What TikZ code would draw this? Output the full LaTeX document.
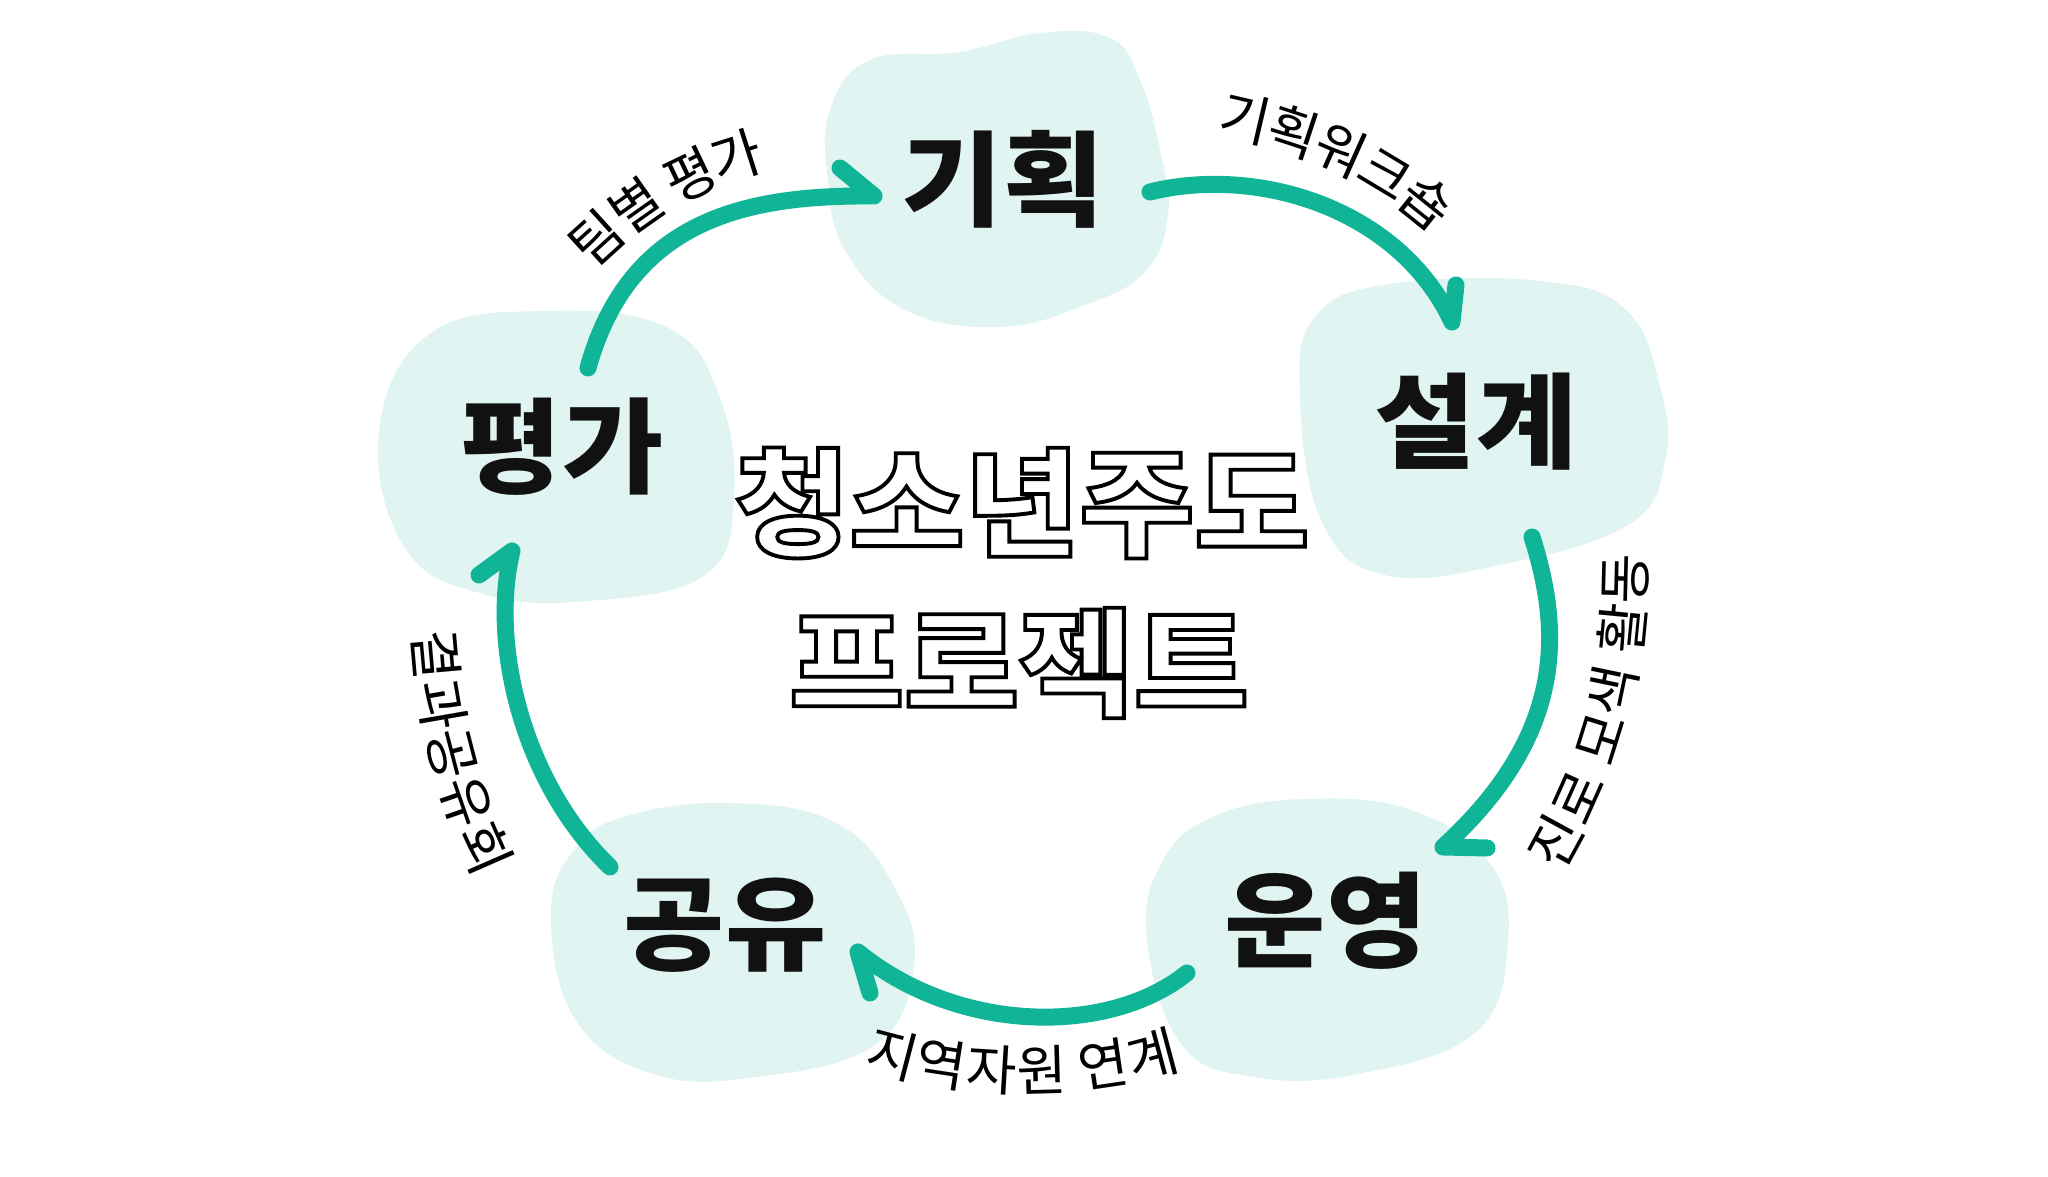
\documentclass[tikz,border=0pt]{standalone}
\usepackage{fontspec}
\newfontfamily\kr{Noto Sans CJK KR}
\newfontfamily\krwide[FakeStretch=1.06]{Noto Sans CJK KR}
\usetikzlibrary{decorations.text}
\definecolor{flowc}{RGB}{16,180,151}
\definecolor{blobc}{RGB}{224,245,242}
\definecolor{inkc}{RGB}{17,17,17}
\newcommand\outlinetxt[1]{\special{pdf:code 1 Tr 1.1 w}#1\special{pdf:code 0 Tr}}
\newcommand\edgefont{\kr\fontsize{15.5}{17}\selectfont}
\begin{document}
\begin{tikzpicture}[x=0.01cm,y=0.01cm,
  blob/.style={fill=blobc, draw=none},
  mainlab/.style={font=\krwide\bfseries\fontsize{29.5}{31}\selectfont, text=inkc, inner sep=0pt},
  titlelab/.style={font=\krwide\bfseries\fontsize{33.5}{36}\selectfont, text=black, inner sep=0pt},
  flow/.style={draw=flowc, line width=0.17cm, line cap=round, line join=round},
  edgelab/.style={decorate, decoration={text along path, text align=center, raise=-0.19cm}}
]
\useasboundingbox[fill=white] (0,0) rectangle (2048,1177);

% blobs
\fill[blob] plot[smooth cycle, tension=0.7] coordinates {(830,1067) (870,1117) (960,1125) (1040,1144) (1110,1139) (1140,1097) (1160,1027) (1168,962) (1145,905) (1085,872) (1000,850) (905,867) (845,927) (828,997)};
\fill[blob] plot[smooth cycle, tension=0.7] coordinates {(1300,780) (1315,860) (1390,893) (1540,896) (1625,868) (1660,790) (1665,715) (1628,652) (1500,612) (1385,602) (1322,655)};
\fill[blob] plot[smooth cycle, tension=0.7] coordinates {(1215,361) (1306,378) (1411,367) (1489,315) (1508,237) (1476,145) (1358,103) (1254,100) (1182,132) (1147,237) (1162,315)};
\fill[blob] plot[smooth cycle, tension=0.7] coordinates {(627,361) (731,374) (836,354) (895,289) (914,211) (875,132) (757,100) (653,103) (575,158) (551,263) (575,328)};
\fill[blob] plot[smooth cycle, tension=0.7] coordinates {(431,844) (549,866) (666,850) (718,785) (734,681) (705,602) (588,576) (483,583) (405,629) (379,746)};

% stage labels
\node[mainlab] (plan) at (1003,998) {기획};
\node[mainlab] (design) at (1476,755) {설계};
\node[mainlab] (run) at (1326,256) {운영};
\node[mainlab] (share) at (725,252) {공유};
\node[mainlab] (eval) at (562,730) {평가};

% title
\node[titlelab] (t1) at (1022,674) {\outlinetxt{청소년주도}};
\node[titlelab] (t2) at (1019,514) {\outlinetxt{프로젝트}};

% connector end points
\coordinate (s1) at (588,809); \coordinate (e1) at (874,981); \coordinate (b1) at (840,1009);
\coordinate (s2) at (1150,985); \coordinate (e2) at (1452,855); \coordinate (b2) at (1456,892);
\coordinate (s3) at (1532,640); \coordinate (e3) at (1443,330); \coordinate (b3) at (1487,329);
\coordinate (s4) at (1187,204); \coordinate (e4) at (858,225); \coordinate (b4) at (870,184);
\coordinate (s5) at (610,310); \coordinate (e5) at (512,626); \coordinate (b5) at (479,602);

% connectors
\draw[flow] (s1) .. controls (630,960) and (750,982) .. (e1) -- (b1);
\draw[flow] (s2) .. controls (1260,1012) and (1400,967) .. (e2) -- (b2);
\draw[flow] (s3) .. controls (1565,537) and (1560,437) .. (e3) -- (b3);
\draw[flow] (s4) .. controls (1110,142) and (960,142) .. (e4) -- (b4);
\draw[flow] (s5) .. controls (520,397) and (490,537) .. (e5) -- (b5);

% connector labels
\path[edgelab, decoration={text={|\edgefont|팀별 평가}}] (548,885) .. controls (615,967) and (700,1022) .. (808,1034);
\path[edgelab, decoration={text={|\edgefont|기획워크숍}}] (1178,1069) .. controls (1280,1056) and (1397,1019) .. (1474,926);
\path[edgelab, decoration={text={|\edgefont|진로 모색 활동}}] (1530,288) .. controls (1595,393) and (1632,487) .. (1626,652);
\path[edgelab, decoration={text={|\edgefont|지역자원 연계}}] (838,140) .. controls (940,96) and (1100,91) .. (1207,140);
\path[edgelab, decoration={text={|\edgefont|결과공유회}}] (432,572) .. controls (432,477) and (456,377) .. (506,283);
\end{tikzpicture}
\end{document}
